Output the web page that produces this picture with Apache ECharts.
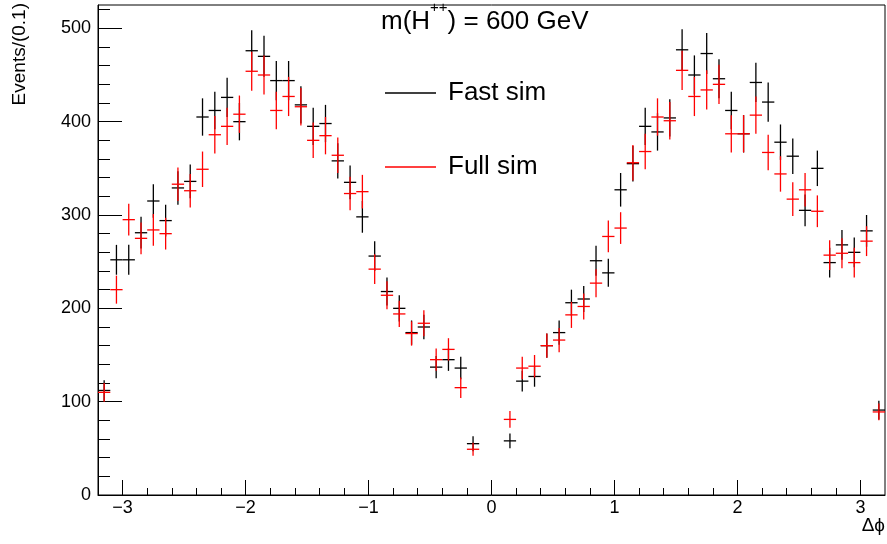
<!DOCTYPE html>
<html>
<head>
<meta charset="utf-8">
<script src="https://cdn.jsdelivr.net/npm/echarts@6/dist/echarts.min.js"></script>
<style>
html,body{margin:0;padding:0;background:#fff;}
#chart{width:887px;height:544px;}
</style>
</head>
<body>
<div id="chart"></div>
<script>
// ---- data ----
const binWidth = 0.1;
const binCenters = [
  -3.15,-3.05,-2.95,-2.85,-2.75,-2.65,-2.55,-2.45,-2.35,-2.25,-2.15,-2.05,-1.95,-1.85,-1.75,-1.65,
  -1.55,-1.45,-1.35,-1.25,-1.15,-1.05,-0.95,-0.85,-0.75,-0.65,-0.55,-0.45,-0.35,-0.25,-0.15,-0.05,
  0.05,0.15,0.25,0.35,0.45,0.55,0.65,0.75,0.85,0.95,1.05,1.15,1.25,1.35,1.45,1.55,
  1.65,1.75,1.85,1.95,2.05,2.15,2.25,2.35,2.45,2.55,2.65,2.75,2.85,2.95,3.05,3.15
];
const fastValues = [
  112,252,252,281,315,294,329,336,405,412,426,400,476,470,444,444,
  418,395,398,358,335,298,256,218,200,174,180,137,145,136,55,null,
  null,58,122,127,160,174,206,210,251,238,327,355,395,389,404,477,
  450,473,446,412,387,442,421,378,363,305,350,249,268,260,283,91
];
const fastErrors = [
  11,16,16,17,18,17,18,18,20,20,21,20,22,22,21,21,
  20,20,20,19,18,17,16,15,14,13,13,12,12,12,8,null,
  null,8,11,11,13,13,14,14,16,15,18,19,20,20,20,22,
  21,22,21,20,20,21,21,19,19,17,19,16,16,16,17,10
];
const fullValues = [
  110,220,295,275,284,280,333,326,349,386,395,408,454,450,412,427,
  416,380,385,364,323,325,242,214,194,173,184,145,156,115,49,null,
  null,81,136,138,160,166,193,202,227,277,286,356,368,405,401,455,
  427,434,440,387,387,407,367,344,317,327,304,257,259,249,272,89
];
const fullErrors = [
  10,15,17,17,17,17,18,18,19,20,20,20,21,21,20,21,
  20,19,20,19,18,18,16,15,14,13,14,12,12,11,7,null,
  null,9,12,12,13,13,14,14,15,17,17,19,19,20,20,21,
  21,21,21,20,20,20,19,19,18,18,17,16,16,16,16,9
];
const xMajorTicks = [-3,-2,-1,0,1,2,3];
const xMinorTicks = [-2.8,-2.6,-2.4,-2.2,-1.8,-1.6,-1.4,-1.2,-0.8,-0.6,-0.4,-0.2,
                     0.2,0.4,0.6,0.8,1.2,1.4,1.6,1.8,2.2,2.4,2.6,2.8];
const yMajorTicks = [0,100,200,300,400,500];
const yMinorTicks = [20,40,60,80,120,140,160,180,220,240,260,280,320,340,360,380,420,440,460,480,520];
const seriesNames = ['Fast sim','Full sim'];
const titleText = 'm(H++) = 600 GeV';
const xTitle = '\u0394\u03D5';
const yTitle = 'Events/(0.1)';

// ---- build ----
const FONT = '"Liberation Sans", Arial, Helvetica, sans-serif';
function toData(vals, errs) {
  const out = [];
  for (let i = 0; i < binCenters.length; i++) {
    if (vals[i] == null) continue;
    out.push([binCenters[i], vals[i], errs[i]]);
  }
  return out;
}
function makeRender(color) {
  return function (params, api) {
    const x = api.value(0), y = api.value(1), e = api.value(2);
    const pl = api.coord([x - binWidth / 2, y]);
    const pr = api.coord([x + binWidth / 2, y]);
    const pt = api.coord([x, y + e]);
    const pb = api.coord([x, y - e]);
    const st = { stroke: color, lineWidth: 1.3 };
    return {
      type: 'group',
      children: [
        { type: 'line', shape: { x1: pl[0], y1: pl[1], x2: pr[0], y2: pr[1] }, style: st },
        { type: 'line', shape: { x1: pt[0], y1: pt[1], x2: pb[0], y2: pb[1] }, style: st }
      ]
    };
  };
}
const minus = v => (v < 0 ? '\u2212' + Math.abs(v) : String(v));
const titleParts = titleText.match(/^(m\(H)(\+\+)(.*)$/);

const chart = echarts.init(document.getElementById('chart'), null, { renderer: 'canvas' });
chart.setOption({
  animation: false,
  backgroundColor: '#fff',
  title: {
    text: '{a|' + titleParts[1] + '}{s|' + titleParts[2] + '}{a|' + titleParts[3] + '}',
    left: 381, top: 0, padding: 0,
    textStyle: {
      fontFamily: FONT, fontWeight: 'normal', color: '#000', fontSize: 26,
      rich: {
        a: { fontFamily: FONT, fontSize: 26, color: '#000' },
        s: { fontFamily: FONT, fontSize: 15, color: '#000', padding: [0, 0, 28, 0] }
      }
    }
  },
  legend: {
    data: seriesNames,
    orient: 'vertical',
    left: 385, top: 78, padding: 0,
    icon: 'rect', itemWidth: 51, itemHeight: 1.3,
    itemGap: 44,
    textStyle: { fontFamily: FONT, fontSize: 26, color: '#000', lineHeight: 30, padding: [0, 0, 0, 7] },
    selectedMode: false
  },
  grid: {
    left: 98, right: 2, top: 5, bottom: 49,
    show: true, borderColor: '#000', borderWidth: 1, backgroundColor: 'transparent',
    containLabel: false
  },
  xAxis: [
    {
      type: 'value', min: -3.2, max: 3.2, position: 'bottom',
      axisLine: { show: true, onZero: false, lineStyle: { color: '#000', width: 1 } },
      axisTick: { show: true, inside: true, length: 15, customValues: xMajorTicks, lineStyle: { color: '#000' } },
      axisLabel: { show: true, customValues: xMajorTicks, formatter: minus, fontFamily: FONT, fontSize: 18, color: '#000', margin: 4 },
      splitLine: { show: false }
    },
    {
      type: 'value', min: -3.2, max: 3.2, position: 'bottom',
      axisLine: { show: false, onZero: false },
      axisTick: { show: true, inside: true, length: 7, customValues: xMinorTicks, lineStyle: { color: '#000' } },
      axisLabel: { show: false },
      splitLine: { show: false }
    }
  ],
  yAxis: [
    {
      type: 'value', min: 0, max: 525, position: 'left',
      axisLine: { show: true, onZero: false, lineStyle: { color: '#000', width: 1 } },
      axisTick: { show: true, inside: true, length: 24, customValues: yMajorTicks, lineStyle: { color: '#000' } },
      axisLabel: { show: true, customValues: yMajorTicks, fontFamily: FONT, fontSize: 18, color: '#000', margin: 7 },
      splitLine: { show: false }
    },
    {
      type: 'value', min: 0, max: 525, position: 'left',
      axisLine: { show: false, onZero: false },
      axisTick: { show: true, inside: true, length: 12, customValues: yMinorTicks, lineStyle: { color: '#000' } },
      axisLabel: { show: false },
      splitLine: { show: false }
    }
  ],
  graphic: [
    { type: 'text', x: 20, y: 3, rotation: Math.PI / 2,
      style: { text: yTitle, fontFamily: FONT, fontSize: 19, fill: '#000', align: 'right', verticalAlign: 'middle' } },
    { type: 'text', x: 885, y: 526,
      style: { text: xTitle, fontFamily: FONT, fontSize: 19, fill: '#000', align: 'right', verticalAlign: 'middle' } }
  ],
  series: [
    { name: seriesNames[0], type: 'custom', xAxisIndex: 0, yAxisIndex: 0,
      itemStyle: { color: '#000000' }, renderItem: makeRender('#000000'),
      encode: { x: 0, y: 1 }, data: toData(fastValues, fastErrors), z: 2 },
    { name: seriesNames[1], type: 'custom', xAxisIndex: 0, yAxisIndex: 0,
      itemStyle: { color: '#ff0000' }, renderItem: makeRender('#ff0000'),
      encode: { x: 0, y: 1 }, data: toData(fullValues, fullErrors), z: 3 }
  ]
});
</script>
</body>
</html>
